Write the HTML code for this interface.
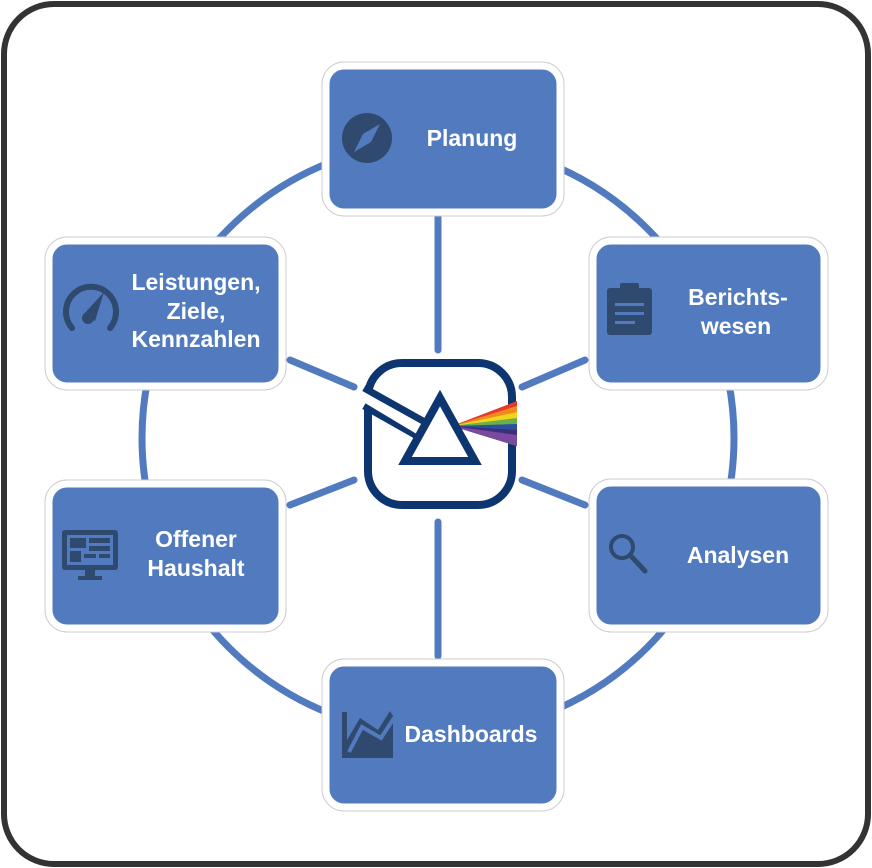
<!DOCTYPE html>
<html><head><style>
html,body{margin:0;padding:0;background:#fff;}
svg{display:block;}
text{font-family:"Liberation Sans",Arial,sans-serif;font-weight:bold;fill:#fff;font-size:23px;text-anchor:middle;}
</style></head><body>
<svg width="872" height="868" viewBox="0 0 872 868">
<rect x="4" y="4" width="864" height="860" rx="50" fill="#fff" stroke="#333" stroke-width="6"/>
<circle cx="438" cy="438" r="296" fill="none" stroke="#527bbf" stroke-width="7"/>
<g stroke="#527bbf" stroke-width="7" stroke-linecap="round">
<line x1="438" y1="215" x2="438" y2="350"/>
<line x1="438" y1="522" x2="438" y2="656"/>
<line x1="290" y1="360" x2="354" y2="387"/>
<line x1="290" y1="505" x2="354" y2="480"/>
<line x1="585" y1="360" x2="522" y2="387"/>
<line x1="585" y1="505" x2="522" y2="480"/>
</g>
<g fill="#527bbf" stroke="#fff" stroke-width="7">
<rect x="326" y="66" width="234" height="146" rx="18"/>
<rect x="593" y="241" width="231" height="145" rx="18"/>
<rect x="593" y="483" width="231" height="145" rx="18"/>
<rect x="326" y="663" width="234" height="144" rx="18"/>
<rect x="49" y="484" width="233" height="144" rx="18"/>
<rect x="49" y="241" width="233" height="145" rx="18"/>
</g>
<g fill="none" stroke="#ccc" stroke-width="1">
<rect x="322" y="62" width="242" height="154" rx="22"/>
<rect x="589" y="237" width="239" height="153" rx="22"/>
<rect x="589" y="479" width="239" height="153" rx="22"/>
<rect x="322" y="659" width="242" height="152" rx="22"/>
<rect x="45" y="480" width="241" height="152" rx="22"/>
<rect x="45" y="237" width="241" height="153" rx="22"/>
</g>
<!-- center icon -->
<rect x="368" y="363" width="144" height="142" rx="34" fill="#fff" stroke="#0d3570" stroke-width="8"/>
<g>
<polygon points="452,426 517,401 517,446" fill="#e43a2a"/>
<polygon points="452,426 517,406 517,446" fill="#f08a1c"/>
<polygon points="452,426 517,412 517,446" fill="#f2d41c"/>
<polygon points="452,426 517,418 517,446" fill="#6ab04a"/>
<polygon points="452,426 517,424 517,446" fill="#2d4f9f"/>
<polygon points="452,426 517,430 517,446" fill="#3c2f7a"/>
<polygon points="452,426 517,435 517,446" fill="#7a4a9f"/>
</g>
<!-- beam band -->
<polygon points="360,385 440,432 432,445 360,403" fill="#fff"/>
<path d="M364,388 L432,426 M364,406 L424,440" stroke="#0d3570" stroke-width="7" fill="none"/>
<polygon points="360,393 436,436 430,442 360,400" fill="#fff"/>
<polygon points="440,398 405,461 475,461" fill="#fff" stroke="#0d3570" stroke-width="8" stroke-linejoin="miter"/>
<!-- texts -->
<text x="472" y="146">Planung</text>
<text x="738" y="305">Berichts-</text>
<text x="736" y="334">wesen</text>
<text x="738" y="563">Analysen</text>
<text x="471" y="742">Dashboards</text>
<text x="196" y="547">Offener</text>
<text x="196" y="576">Haushalt</text>
<text x="196" y="290">Leistungen,</text>
<text x="196" y="319">Ziele,</text>
<text x="196" y="347">Kennzahlen</text>
<!-- icons -->
<g fill="#2f4a6e" stroke="none">
<circle cx="367" cy="138" r="25"/>
<polygon points="380,124 371,142 363,134" fill="#527bbf"/>
<polygon points="354,152 363,134 371,142" fill="#527bbf"/>
<rect x="607" y="288" width="45" height="47" rx="3"/>
<rect x="620" y="283" width="19" height="9" rx="2"/>
<rect x="62" y="530" width="56" height="40" rx="3"/>
<rect x="85" y="570" width="10" height="6"/>
<rect x="78" y="576" width="24" height="4"/>
<polygon points="342,712 347,712 347,740 360,718 378,730 390,711 393,716 393,758 342,758"/>
</g>
<g fill="#527bbf">
<rect x="615" y="303" width="29" height="3"/><rect x="615" y="312" width="29" height="3"/><rect x="615" y="321" width="20" height="3"/>
<rect x="67" y="535" width="46" height="30"/>
</g>
<g fill="#2f4a6e">
<rect x="70" y="538" width="16" height="10"/><rect x="89" y="538" width="21" height="5"/><rect x="89" y="546" width="21" height="5"/>
<rect x="70" y="551" width="11" height="11"/><rect x="84" y="554" width="12" height="4"/><rect x="99" y="554" width="11" height="4"/>
</g>
<path d="M349,752 L362,727 L381,738 L394,718" stroke="#527bbf" stroke-width="4" fill="none"/>
<path d="M72,328 A25,25 0 1 1 110,328" stroke="#2f4a6e" stroke-width="6" fill="none" stroke-linecap="round"/>
<path d="M83,315 L104,292 L95,321 Z" fill="#2f4a6e"/>
<circle cx="88" cy="318" r="6" fill="#2f4a6e"/>
<circle cx="622" cy="547" r="11" fill="none" stroke="#2f4a6e" stroke-width="4"/>
<line x1="630" y1="555" x2="645" y2="571" stroke="#2f4a6e" stroke-width="5" stroke-linecap="round"/>
</svg>
</body></html>
